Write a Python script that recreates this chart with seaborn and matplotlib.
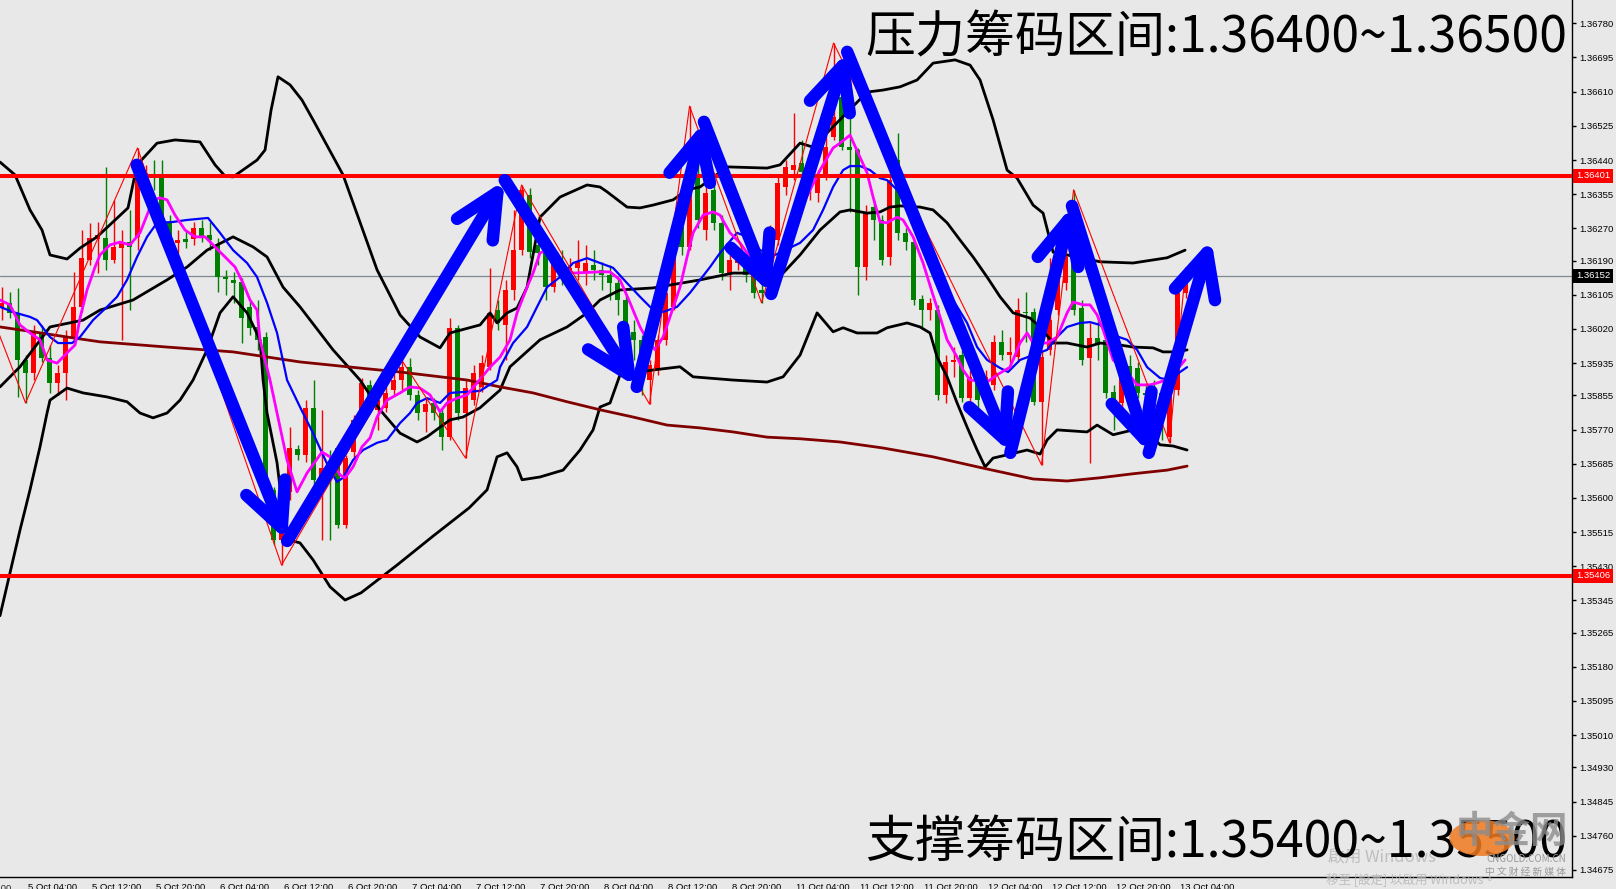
import matplotlib
matplotlib.use("Agg")
import matplotlib.pyplot as plt
import matplotlib.transforms as mtransforms
import matplotlib.patches as mpatches
import seaborn as sns
import numpy as np
import pandas as pd

# ---- H1 candles, 5 Oct 01:00 .. 13 Oct 05:00 ----
opens = [1.36072, 1.36085, 1.36060, 1.35943, 1.35911, 1.36010, 1.35948, 1.35886, 1.35911, 1.36000,
         1.36075, 1.36192, 1.36244, 1.36246, 1.36192, 1.36221, 1.36236, 1.36249, 1.36395, 1.36403,
         1.36398, 1.36284, 1.36234, 1.36244, 1.36244, 1.36271, 1.36254, 1.36229, 1.36149, 1.36142,
         1.36137, 1.36075, 1.36025, 1.36000, 1.35620, 1.35495, 1.35615, 1.35722, 1.35707, 1.35824,
         1.35645, 1.35674, 1.35724, 1.35533, 1.35714, 1.35794, 1.35881, 1.35819, 1.35824, 1.35868,
         1.35893, 1.35925, 1.35856, 1.35814, 1.35836, 1.35811, 1.35751, 1.36023, 1.35811, 1.35843,
         1.35876, 1.35925, 1.36067, 1.36030, 1.36117, 1.36216, 1.36353, 1.36229, 1.36209, 1.36124,
         1.36187, 1.36162, 1.36172, 1.36159, 1.36179, 1.36167, 1.36154, 1.36134, 1.36092, 1.36013,
         1.35993, 1.35893, 1.35918, 1.35993, 1.36075, 1.36274, 1.36224, 1.36398, 1.36266, 1.36366,
         1.36284, 1.36159, 1.36184, 1.36199, 1.36159, 1.36117, 1.36124, 1.36241, 1.36373, 1.36415,
         1.36433, 1.36366, 1.36358, 1.36398, 1.36497, 1.36597, 1.36472, 1.36465, 1.36174, 1.36323,
         1.36291, 1.36199, 1.36440, 1.36259, 1.36236, 1.36095, 1.36067, 1.36067, 1.35856, 1.35938,
         1.35955, 1.35848, 1.35886, 1.35881, 1.35881, 1.35988, 1.35955, 1.35950, 1.36062, 1.36062,
         1.35838, 1.35968, 1.36067, 1.36134, 1.36192, 1.36072, 1.35948, 1.35998, 1.35993, 1.35863,
         1.35836, 1.35928, 1.35923, 1.35861, 1.35873, 1.35861, 1.35751, 1.35868, 1.36110]
closes = [1.36085, 1.36060, 1.35943, 1.35911, 1.36010, 1.35948, 1.35886, 1.35911, 1.36000, 1.36075,
          1.36196, 1.36246, 1.36254, 1.36192, 1.36224, 1.36236, 1.36224, 1.36398, 1.36408, 1.36395,
          1.36286, 1.36241, 1.36241, 1.36236, 1.36271, 1.36251, 1.36241, 1.36149, 1.36144, 1.36134,
          1.36047, 1.36023, 1.35993, 1.35620, 1.35495, 1.35595, 1.35724, 1.35707, 1.35824, 1.35645,
          1.35674, 1.35669, 1.35533, 1.35699, 1.35794, 1.35886, 1.35824, 1.35843, 1.35861, 1.35893,
          1.35925, 1.35856, 1.35811, 1.35833, 1.35811, 1.35751, 1.36023, 1.35811, 1.35873, 1.35911,
          1.35935, 1.36060, 1.36035, 1.36117, 1.36216, 1.36366, 1.36211, 1.36209, 1.36124, 1.36187,
          1.36162, 1.36172, 1.36187, 1.36184, 1.36167, 1.36154, 1.36134, 1.36092, 1.36013, 1.35993,
          1.35893, 1.35930, 1.35993, 1.36110, 1.36234, 1.36224, 1.36398, 1.36291, 1.36358, 1.36284,
          1.36159, 1.36192, 1.36199, 1.36154, 1.36110, 1.36110, 1.36259, 1.36383, 1.36423, 1.36428,
          1.36410, 1.36403, 1.36398, 1.36472, 1.36547, 1.36472, 1.36465, 1.36174, 1.36308, 1.36291,
          1.36192, 1.36390, 1.36259, 1.36236, 1.36092, 1.36067, 1.36085, 1.35856, 1.35938, 1.35943,
          1.35848, 1.35901, 1.35843, 1.35901, 1.35988, 1.35955, 1.35963, 1.36067, 1.36060, 1.35838,
          1.35950, 1.36042, 1.36142, 1.36199, 1.36067, 1.35943, 1.35998, 1.35980, 1.35861, 1.35836,
          1.35901, 1.35901, 1.35861, 1.35856, 1.35861, 1.35794, 1.35868, 1.36110, 1.36152]
highs = [1.36124, 1.36112, 1.36122, 1.35955, 1.36030, 1.36030, 1.35980, 1.35930, 1.36018, 1.36162,
         1.36266, 1.36284, 1.36286, 1.36423, 1.36341, 1.36266, 1.36316, 1.36470, 1.36428, 1.36440,
         1.36440, 1.36303, 1.36266, 1.36266, 1.36286, 1.36291, 1.36286, 1.36246, 1.36167, 1.36162,
         1.36147, 1.36092, 1.36092, 1.36013, 1.35627, 1.35607, 1.35776, 1.35732, 1.35843, 1.35893,
         1.35819, 1.35719, 1.35732, 1.35707, 1.35806, 1.35898, 1.35893, 1.35868, 1.35881, 1.35918,
         1.35943, 1.35948, 1.35868, 1.35848, 1.35848, 1.35824, 1.36047, 1.36030, 1.35893, 1.35930,
         1.35955, 1.36172, 1.36092, 1.36142, 1.36316, 1.36378, 1.36371, 1.36266, 1.36229, 1.36204,
         1.36216, 1.36196, 1.36241, 1.36229, 1.36216, 1.36187, 1.36179, 1.36147, 1.36105, 1.36042,
         1.36005, 1.35943, 1.36005, 1.36129, 1.36266, 1.36303, 1.36574, 1.36440, 1.36378, 1.36390,
         1.36303, 1.36204, 1.36216, 1.36216, 1.36172, 1.36142, 1.36279, 1.36403, 1.36440, 1.36557,
         1.36490, 1.36465, 1.36415, 1.36584, 1.36731, 1.36614, 1.36564, 1.36470, 1.36328, 1.36341,
         1.36303, 1.36403, 1.36507, 1.36271, 1.36246, 1.36105, 1.36097, 1.36080, 1.35955, 1.35975,
         1.35968, 1.35918, 1.35898, 1.35918, 1.36005, 1.36018, 1.36000, 1.36097, 1.36112, 1.36072,
         1.35968, 1.36196, 1.36167, 1.36249, 1.36366, 1.36092, 1.36035, 1.36047, 1.36005, 1.35881,
         1.35918, 1.35955, 1.35938, 1.35881, 1.35893, 1.35873, 1.35881, 1.36129, 1.36172]
lows = [1.36042, 1.36047, 1.35851, 1.35836, 1.35893, 1.35938, 1.35861, 1.35856, 1.35843, 1.35980,
        1.36062, 1.36179, 1.36159, 1.36167, 1.36184, 1.35993, 1.36067, 1.36216, 1.36378, 1.36366,
        1.36249, 1.36221, 1.36209, 1.36221, 1.36229, 1.36236, 1.36216, 1.36112, 1.36105, 1.36085,
        1.35985, 1.36005, 1.35968, 1.35607, 1.35483, 1.35433, 1.35595, 1.35694, 1.35689, 1.35632,
        1.35495, 1.35495, 1.35525, 1.35525, 1.35699, 1.35781, 1.35814, 1.35769, 1.35814, 1.35856,
        1.35868, 1.35843, 1.35794, 1.35764, 1.35794, 1.35719, 1.35744, 1.35794, 1.35699, 1.35831,
        1.35863, 1.35918, 1.36018, 1.35943, 1.36092, 1.36204, 1.36196, 1.36179, 1.36092, 1.36112,
        1.36129, 1.36117, 1.36142, 1.36129, 1.36142, 1.36117, 1.36092, 1.36055, 1.35993, 1.35943,
        1.35856, 1.35833, 1.35906, 1.35980, 1.36067, 1.36204, 1.36216, 1.36271, 1.36241, 1.36266,
        1.36142, 1.36117, 1.36167, 1.36137, 1.36097, 1.36085, 1.36112, 1.36229, 1.36353, 1.36390,
        1.36395, 1.36341, 1.36336, 1.36390, 1.36490, 1.36465, 1.36311, 1.36105, 1.36142, 1.36241,
        1.36179, 1.36179, 1.36241, 1.36216, 1.36080, 1.36025, 1.36042, 1.35843, 1.35836, 1.35901,
        1.35838, 1.35831, 1.35819, 1.35856, 1.35868, 1.35943, 1.35925, 1.35938, 1.35988, 1.35831,
        1.35682, 1.35955, 1.36055, 1.36117, 1.36055, 1.35930, 1.35687, 1.35943, 1.35848, 1.35769,
        1.35819, 1.35893, 1.35848, 1.35769, 1.35843, 1.35744, 1.35737, 1.35856, 1.36097]

# ---- indicator lines: (bar, price) ----
bb_upper = [(-0.19, 1.36435), (1.69, 1.36403), (3.56, 1.36316), (5.06, 1.36266), (6.06, 1.36204),
            (8.19, 1.36194), (9.81, 1.36221), (11.94, 1.36249), (15.81, 1.36321), (16.94, 1.36428),
            (19.44, 1.36482), (21.69, 1.36490), (24.81, 1.36485), (26.69, 1.36428), (27.94, 1.36400),
            (28.94, 1.36398), (31.94, 1.36440), (32.94, 1.36465), (33.69, 1.36564), (34.56, 1.36647),
            (36.06, 1.36627), (37.56, 1.36589), (38.94, 1.36540), (42.69, 1.36403), (46.94, 1.36167),
            (49.81, 1.36055), (52.31, 1.36000), (54.81, 1.35973), (56.06, 1.36010), (59.81, 1.36030),
            (61.06, 1.36060), (61.94, 1.36035), (63.19, 1.36060), (64.44, 1.36072), (65.69, 1.36124),
            (67.31, 1.36298), (69.81, 1.36348), (73.19, 1.36378), (74.81, 1.36373), (75.69, 1.36361),
            (78.19, 1.36323), (79.81, 1.36321), (81.44, 1.36328), (83.94, 1.36341), (85.69, 1.36366),
            (87.31, 1.36373), (90.69, 1.36423), (95.69, 1.36420), (97.31, 1.36428), (99.81, 1.36482),
            (101.44, 1.36472), (108.19, 1.36609), (110.19, 1.36614), (112.31, 1.36622), (114.44, 1.36639),
            (116.44, 1.36681), (119.19, 1.36689), (121.06, 1.36676), (122.31, 1.36639), (123.94, 1.36540),
            (125.69, 1.36415), (126.94, 1.36395), (128.94, 1.36328), (130.19, 1.36308), (131.44, 1.36211),
            (133.19, 1.36204), (137.31, 1.36187), (141.44, 1.36184), (145.69, 1.36197), (147.94, 1.36216)]
bb_middle = [(-0.19, 1.35876), (2.31, 1.35926), (6.06, 1.36025), (10.19, 1.36042), (12.31, 1.36067),
             (16.44, 1.36092), (18.56, 1.36117), (20.69, 1.36142), (23.19, 1.36174), (25.69, 1.36216),
             (28.94, 1.36249), (31.44, 1.36224), (33.19, 1.36199), (35.19, 1.36124), (37.31, 1.36075),
             (41.44, 1.35968), (44.81, 1.35893), (47.31, 1.35819), (49.81, 1.35761), (51.94, 1.35739),
             (53.19, 1.35752), (56.06, 1.35794), (57.69, 1.35801), (59.81, 1.35824), (62.31, 1.35868),
             (63.56, 1.35926), (67.31, 1.35993), (70.69, 1.36025), (73.19, 1.36060), (74.81, 1.36092),
             (77.31, 1.36117), (81.44, 1.36122), (87.31, 1.36142), (91.44, 1.36159), (97.69, 1.36159),
             (99.81, 1.36204), (102.31, 1.36266), (104.81, 1.36311), (106.06, 1.36316), (108.19, 1.36308),
             (109.81, 1.36311), (111.06, 1.36323), (112.31, 1.36326), (114.81, 1.36323), (116.44, 1.36316),
             (118.19, 1.36284), (119.81, 1.36241), (121.44, 1.36199), (123.19, 1.36149), (124.81, 1.36100),
             (126.44, 1.36060), (128.56, 1.36047), (129.81, 1.36025), (131.44, 1.35985), (133.19, 1.35985),
             (135.69, 1.35975), (137.31, 1.35985), (139.81, 1.35980), (141.44, 1.35975), (143.94, 1.35973),
             (145.19, 1.35963), (146.94, 1.35963), (148.19, 1.35968)]
bb_lower = [(-0.19, 1.35307), (1.44, 1.35446), (2.31, 1.35520), (3.56, 1.35620), (4.81, 1.35727),
            (5.69, 1.35811), (6.06, 1.35843), (8.19, 1.35873), (10.19, 1.35861), (13.19, 1.35851),
            (15.69, 1.35839), (17.31, 1.35811), (18.94, 1.35799), (20.69, 1.35811), (22.31, 1.35843),
            (23.94, 1.35893), (25.69, 1.35968), (27.31, 1.36060), (28.94, 1.36100), (30.69, 1.36060),
            (32.31, 1.35993), (32.69, 1.35893), (33.19, 1.35811), (34.44, 1.35687), (35.19, 1.35563),
            (36.06, 1.35495), (37.31, 1.35488), (38.94, 1.35446), (41.06, 1.35379), (42.94, 1.35346),
            (44.94, 1.35364), (49.44, 1.35433), (53.94, 1.35505), (58.44, 1.35575), (60.69, 1.35620),
            (61.94, 1.35702), (63.19, 1.35712), (64.44, 1.35677), (65.06, 1.35645), (67.31, 1.35652),
            (70.19, 1.35669), (72.31, 1.35719), (73.94, 1.35769), (74.81, 1.35826), (76.06, 1.35836),
            (77.31, 1.35906), (81.44, 1.35918), (84.81, 1.35926), (86.44, 1.35901), (91.44, 1.35893),
            (95.69, 1.35888), (97.69, 1.35901), (99.81, 1.35955), (101.94, 1.36060), (103.94, 1.36013),
            (105.19, 1.36023), (106.94, 1.36010), (109.44, 1.36010), (110.69, 1.36023), (113.19, 1.36035),
            (114.81, 1.36025), (116.06, 1.36010), (116.94, 1.35950), (118.19, 1.35901), (119.44, 1.35836),
            (120.69, 1.35776), (121.94, 1.35719), (122.94, 1.35677), (123.94, 1.35699), (125.69, 1.35707),
            (128.19, 1.35719), (129.81, 1.35709), (130.69, 1.35744), (131.94, 1.35769), (135.69, 1.35764),
            (136.94, 1.35781), (138.94, 1.35757), (141.44, 1.35769), (143.56, 1.35757), (144.81, 1.35732),
            (146.44, 1.35729), (148.19, 1.35719)]
ma_fast = [(-0.19, 1.36092), (1.06, 1.36080), (2.31, 1.36030), (3.56, 1.36010), (4.81, 1.35993),
           (5.69, 1.35943), (6.94, 1.35935), (8.56, 1.35968), (9.19, 1.35980), (9.81, 1.36047),
           (10.69, 1.36117), (11.69, 1.36174), (12.31, 1.36204), (13.56, 1.36229), (14.81, 1.36236),
           (16.06, 1.36229), (17.31, 1.36259), (18.19, 1.36303), (18.94, 1.36341), (19.81, 1.36346),
           (20.69, 1.36341), (21.69, 1.36303), (22.94, 1.36266), (24.19, 1.36249), (25.44, 1.36249),
           (26.69, 1.36224), (27.94, 1.36199), (29.19, 1.36174), (30.19, 1.36134), (31.06, 1.36092),
           (31.94, 1.36067), (32.31, 1.35993), (33.56, 1.35893), (35.69, 1.35694), (36.94, 1.35615),
           (38.19, 1.35662), (40.06, 1.35714), (41.06, 1.35702), (42.31, 1.35657), (42.94, 1.35650),
           (43.94, 1.35677), (45.06, 1.35727), (46.06, 1.35749), (46.94, 1.35801), (48.19, 1.35843),
           (49.81, 1.35861), (51.06, 1.35876), (52.31, 1.35873), (53.56, 1.35856), (54.81, 1.35814),
           (55.69, 1.35836), (56.94, 1.35848), (58.19, 1.35856), (59.44, 1.35886), (61.06, 1.35925),
           (62.31, 1.35950), (63.56, 1.35993), (64.44, 1.36060), (65.69, 1.36124), (66.44, 1.36159),
           (67.31, 1.36209), (68.19, 1.36216), (69.44, 1.36209), (70.19, 1.36174), (71.44, 1.36159),
           (74.81, 1.36162), (76.06, 1.36162), (77.31, 1.36142), (78.56, 1.36085), (79.81, 1.36025),
           (80.69, 1.35993), (81.69, 1.35968), (82.69, 1.36000), (83.56, 1.36050), (84.81, 1.36124),
           (85.69, 1.36199), (86.44, 1.36259), (87.69, 1.36303), (88.94, 1.36311), (89.81, 1.36303),
           (91.06, 1.36259), (92.31, 1.36234), (93.19, 1.36209), (93.94, 1.36192), (95.19, 1.36147),
           (96.69, 1.36162), (98.56, 1.36241), (100.44, 1.36341), (102.31, 1.36415), (103.94, 1.36470),
           (104.81, 1.36482), (106.06, 1.36502), (107.06, 1.36458), (108.19, 1.36408), (108.94, 1.36348),
           (109.81, 1.36286), (110.69, 1.36284), (111.94, 1.36298), (112.69, 1.36291), (113.94, 1.36249),
           (115.19, 1.36184), (116.31, 1.36112), (117.31, 1.36050), (118.19, 1.35993), (119.44, 1.35950),
           (120.19, 1.35918), (121.06, 1.35893), (123.19, 1.35888), (124.44, 1.35906), (126.06, 1.35925),
           (127.31, 1.35985), (128.19, 1.36010), (128.94, 1.35985), (130.69, 1.35985), (131.94, 1.36000),
           (133.19, 1.36060), (133.94, 1.36087), (135.19, 1.36080), (136.06, 1.36080), (136.94, 1.36055),
           (137.69, 1.36018), (138.94, 1.35943), (140.69, 1.35913), (141.94, 1.35881), (143.56, 1.35881),
           (144.81, 1.35888), (146.06, 1.35898), (147.94, 1.35943)]
ma_mid = [(-0.19, 1.36075), (1.44, 1.36062), (3.56, 1.36050), (4.44, 1.36042), (6.06, 1.36000),
          (7.06, 1.35985), (8.81, 1.35985), (9.81, 1.36000), (11.44, 1.36042), (13.19, 1.36075),
          (14.44, 1.36100), (15.69, 1.36142), (16.94, 1.36199), (18.19, 1.36249), (19.44, 1.36284),
          (21.44, 1.36286), (23.19, 1.36291), (25.81, 1.36296), (27.31, 1.36259), (28.94, 1.36216),
          (30.69, 1.36184), (31.94, 1.36149), (33.19, 1.36085), (34.44, 1.36010), (35.69, 1.35893),
          (37.31, 1.35826), (38.94, 1.35761), (40.06, 1.35712), (41.06, 1.35669), (41.94, 1.35640),
          (42.69, 1.35650), (43.94, 1.35694), (45.19, 1.35719), (46.94, 1.35737), (48.19, 1.35744),
          (49.81, 1.35786), (51.06, 1.35811), (51.94, 1.35836), (53.19, 1.35848), (54.81, 1.35836),
          (56.06, 1.35861), (59.81, 1.35866), (61.94, 1.35893), (62.31, 1.35925), (63.94, 1.35985),
          (65.69, 1.36025), (66.94, 1.36075), (68.19, 1.36124), (69.81, 1.36149), (71.44, 1.36184),
          (73.19, 1.36196), (74.81, 1.36184), (76.44, 1.36172), (78.19, 1.36134), (79.81, 1.36100),
          (81.06, 1.36075), (82.69, 1.36062), (84.44, 1.36075), (86.06, 1.36110), (87.31, 1.36142),
          (88.56, 1.36174), (89.81, 1.36209), (91.94, 1.36259), (93.19, 1.36249), (94.81, 1.36216),
          (96.69, 1.36204), (99.81, 1.36234), (101.44, 1.36266), (102.69, 1.36316), (103.94, 1.36373),
          (105.19, 1.36415), (106.06, 1.36425), (107.31, 1.36425), (108.56, 1.36415), (109.81, 1.36395),
          (110.69, 1.36390), (111.94, 1.36366), (113.56, 1.36308), (114.81, 1.36249), (116.44, 1.36174),
          (118.19, 1.36110), (118.94, 1.36092), (120.69, 1.36035), (121.94, 1.35975), (123.19, 1.35943),
          (124.81, 1.35923), (125.81, 1.35913), (127.31, 1.35943), (128.94, 1.35955), (130.69, 1.35968),
          (131.94, 1.36000), (133.19, 1.36025), (134.81, 1.36035), (136.06, 1.36037), (137.31, 1.36030),
          (138.94, 1.36005), (140.69, 1.35993), (141.94, 1.35968), (143.19, 1.35925), (144.81, 1.35898),
          (146.06, 1.35893), (147.31, 1.35913), (148.19, 1.35925)]
ma_slow = [(-0.19, 1.36025), (3.94, 1.36013), (8.19, 1.36000), (12.31, 1.35988), (20.69, 1.35975),
           (28.94, 1.35963), (37.31, 1.35938), (45.69, 1.35921), (49.81, 1.35913), (58.19, 1.35893),
           (62.31, 1.35876), (66.44, 1.35861), (70.69, 1.35839), (74.81, 1.35819), (78.94, 1.35801),
           (83.19, 1.35781), (87.31, 1.35774), (91.44, 1.35764), (95.69, 1.35751), (99.81, 1.35747),
           (104.81, 1.35739), (110.19, 1.35724), (116.44, 1.35702), (122.69, 1.35674), (128.94, 1.35647),
           (133.19, 1.35642), (137.31, 1.35650), (141.44, 1.35660), (145.69, 1.35669), (148.19, 1.35679)]
zigzag = [(-3, 1.36147), (3, 1.35836), (17, 1.36470), (35, 1.35433), (50, 1.35943), (58, 1.35699),
          (65, 1.36378), (81, 1.35833), (86, 1.36574), (95, 1.36085), (104, 1.36731), (130, 1.35682),
          (134, 1.36366), (146, 1.35737), (148, 1.36172)]
# hand-drawn blue swing arrows
swing = [(16.9, 1.36428), (35.7, 1.35493), (62.9, 1.36390), (79.4, 1.35876), (87.8, 1.36535),
         (96.2, 1.36107), (105.7, 1.36709), (126.1, 1.35712), (133.8, 1.36326), (143.4, 1.35712),
         (151.2, 1.36244)]

resistance = 1.36401
support = 1.35406
bid = 1.36152

price_ticks = [1.36780, 1.36695, 1.36610, 1.36525, 1.36440, 1.36355, 1.36270, 1.36190, 1.36105,
               1.36020, 1.35935, 1.35855, 1.35770, 1.35685, 1.35600, 1.35515, 1.35430, 1.35345,
               1.35265, 1.35180, 1.35095, 1.35010, 1.34930, 1.34845, 1.34760, 1.34675]
time_labels = ["5 Oct 04:00", "5 Oct 12:00", "5 Oct 20:00", "6 Oct 04:00", "6 Oct 12:00",
               "6 Oct 20:00", "7 Oct 04:00", "7 Oct 12:00", "7 Oct 20:00", "8 Oct 04:00",
               "8 Oct 12:00", "8 Oct 20:00", "11 Oct 04:00", "11 Oct 12:00", "11 Oct 20:00",
               "12 Oct 04:00", "12 Oct 12:00", "12 Oct 20:00", "13 Oct 04:00"]
time_bars = [3 + 8 * i for i in range(len(time_labels))]

BG = "#e8e8e8"
sns.set_theme(style="white", rc={"axes.facecolor": BG, "figure.facecolor": BG})
plt.rcParams["font.family"] = ["Noto Sans CJK SC", "DejaVu Sans"]

W, H = 1616, 889
fig = plt.figure(figsize=(W / 100, H / 100), dpi=100)
ax = fig.add_axes([0, 12 / H, 1572 / W, 877 / H])
ax.set_xlim(-0.19, 196.3)
ax.set_ylim(1.346574, 1.368379)

df = pd.DataFrame({"open": opens, "close": closes, "high": highs, "low": lows})
df["bar"] = np.arange(len(df))
cols = np.where(df["close"] >= df["open"], "#ff0000", "#008000")
ax.vlines(df["bar"], df["low"], df["high"], colors=cols, lw=1, zorder=2)
body = np.maximum((df["close"] - df["open"]).abs(), 0.00003)
ax.bar(df["bar"], body, bottom=df[["open", "close"]].min(axis=1), width=0.62,
       color=cols, linewidth=0, zorder=3)

ax.axhline(bid, color="#7f8790", lw=0.9, zorder=1)

lines = [(bb_upper, "black", 2.0, 4), (bb_middle, "black", 2.0, 4), (bb_lower, "black", 2.0, 4),
         (ma_slow, "#800000", 2.0, 4), (ma_mid, "#0000ff", 1.6, 5), (ma_fast, "#ff00ff", 2.0, 5),
         (zigzag, "#ff0000", 0.8, 5)]
for pts, c, lw, z in lines:
    d = pd.DataFrame(pts, columns=["bar", "price"])
    sns.lineplot(data=d, x="bar", y="price", color=c, lw=lw, ax=ax, sort=False,
                 estimator=None, zorder=z)

ax.axhline(resistance, color="#ff0000", lw=2.9, zorder=6)
ax.axhline(support, color="#ff0000", lw=2.9, zorder=6)

for a, b in zip(swing[:-1], swing[1:]):
    ax.annotate("", xy=b, xytext=a, zorder=8,
                arrowprops=dict(arrowstyle="->,head_length=2.6,head_width=1.25", lw=9,
                                color="#0000ff", shrinkA=0, shrinkB=0,
                                capstyle="round", joinstyle="round"))

ax.set_xlabel("")
ax.set_ylabel("")
for s in ["top", "left"]:
    ax.spines[s].set_visible(False)
for s in ["right", "bottom"]:
    ax.spines[s].set_color("black")
    ax.spines[s].set_linewidth(1)

tick_font = dict(family="Liberation Sans", size=6.8)
ax.yaxis.tick_right()
ax.set_yticks(price_ticks)
ax.set_yticklabels([f"{p:.5f}" for p in price_ticks], fontdict=tick_font)
ax.set_xticks(time_bars)
ax.set_xticklabels(time_labels, fontdict=tick_font)
ax.tick_params(axis="y", direction="out", length=3, width=1, pad=2, colors="black")
ax.tick_params(axis="x", direction="out", length=3, width=1, pad=1, colors="black")
off = mtransforms.ScaledTranslation(2 / 100, 0, fig.dpi_scale_trans)
for lab in ax.get_xticklabels():
    lab.set_horizontalalignment("left")
    lab.set_transform(lab.get_transform() + off)
# label of the tick just left of the view, cut by the canvas edge
ax.text(-5, -0.0075, "4 Oct 20:00", transform=ax.get_xaxis_transform(), ha="left", va="top",
        fontdict=tick_font, clip_on=False)

# price tags on the axis
tag_tr = mtransforms.blended_transform_factory(fig.transFigure, ax.transData)
for p, c in [(resistance, "#ff0000"), (support, "#ff0000"), (bid, "black")]:
    ax.text(1576 / W, p, f"{p:.5f}", transform=tag_tr, ha="left", va="center", color="white",
            fontdict=tick_font, clip_on=False, zorder=10,
            bbox=dict(boxstyle="square,pad=0.28", fc=c, ec="none"))

big = ["Noto Sans CJK SC", "DejaVu Sans"]
fig.text(1567 / W, 1 - 38 / H, "压力筹码区间:1.36400~1.36500", ha="right", va="center",
         fontsize=36, color="black", family=big, zorder=20)
fig.text(1567 / W, 1 - 843 / H, "支撑筹码区间:1.35400~1.35500", ha="right", va="center",
         fontsize=36, color="black", family=big, zorder=20)

# screenshot overlays (site logo and Windows activation notice)
fig.patches.append(mpatches.Circle((1482 / W, 1 - 838 / H), 18 / H, transform=fig.transFigure,
                                   fc="#f07a20", ec="none", alpha=0.85, zorder=21))
fig.text(1568 / W, 1 - 832 / H, "中金网", ha="right", va="center", fontsize=27,
         color="#8c8c8c", alpha=0.8, family=big, weight="bold", zorder=21)
fig.text(1566 / W, 1 - 859 / H, "CNGOLD.COM.CN", ha="right", va="center", fontsize=7,
         color="#9a9a9a", zorder=21)
fig.text(1566 / W, 1 - 872 / H, "中 文 财 经 新 媒 体", ha="right", va="center", fontsize=7,
         color="#9a9a9a", family=big, zorder=21)
tc = ["Noto Sans CJK TC", "DejaVu Sans"]
fig.text(1328 / W, 1 - 857 / H, "啟用 Windows", ha="left", va="center", fontsize=12,
         color="#b4b4b4", alpha=0.8, family=tc, zorder=19)
fig.text(1326 / W, 1 - 880 / H, "移至 [設定] 以啟用 Windows。", ha="left", va="center", fontsize=9,
         color="#b4b4b4", alpha=0.8, family=tc, zorder=19)

fig.savefig("out.png", dpi=100, facecolor=BG)
